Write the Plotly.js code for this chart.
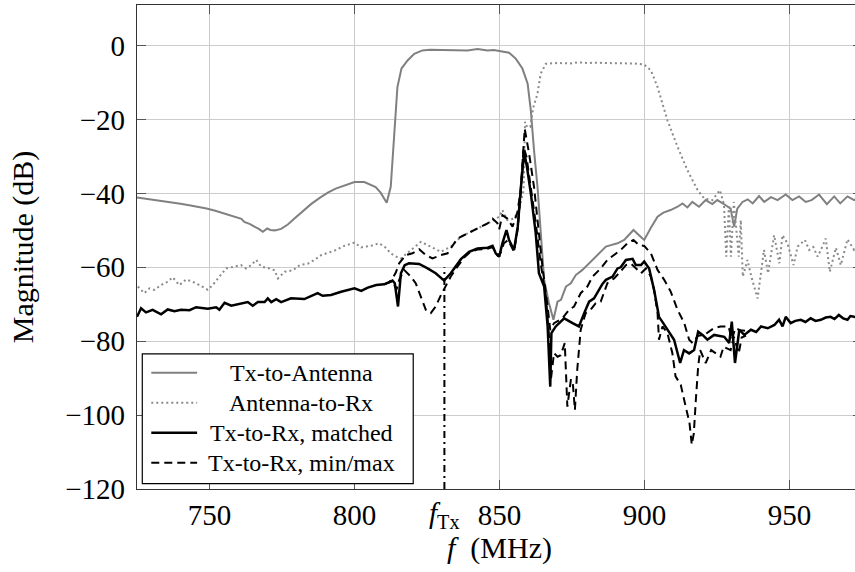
<!DOCTYPE html>
<html>
<head>
<meta charset="utf-8">
<script src="https://cdn.plot.ly/plotly-3.0.1.min.js"></script>
<style>
  html, body { margin: 0; padding: 0; overflow: hidden; background: #fff; }
  #plot { width: 862px; height: 572px; }
</style>
</head>
<body>
<div id="plot"></div>
<script>
// ---------- Data ----------
const txAntF = [725,728,731,734,737,740,743,746,749,752,755,758,761,762,764,765.5,767,768.4,769.9,771,772.5,774.7,777,779.3,782,785,788,790.8,793.5,796.5,798.5,800,803.4,805.6,807.3,809,811.1,812.5,813.7,814.8,816.2,818.3,820.6,823.4,826,828.6,831,834.3,837,839,842.4,845.9,848,850.4,853.3,855.6,857.9,859.7,860.8,861.9,863.1,865.4,867,868.6,870,871.2,872.9,874.6,876.3,878.6,880.3,882.6,884.9,886.7,888.4,890.7,893,894.7,896.2,898.1,899.9,902.2,904.5,906.5,909,911.4,913.1,914.8,916.5,918.8,921.1,923.4,925.1,928,929.7,930.9,932,933.8,935.6,937.3,939.5,941.3,943.6,945.9,948.7,951,953.3,955.6,957.6,960.2,962.9,965.4,967.5,970,972.3,974.5];
const txAntDb = [-41.1,-41.4,-41.7,-42.0,-42.4,-42.8,-43.2,-43.6,-44.1,-44.7,-45.4,-46.2,-46.9,-47.7,-48.3,-49.0,-49.6,-50.4,-49.5,-49.9,-50.0,-49.6,-48.4,-46.8,-45.0,-42.9,-41.2,-39.8,-38.7,-37.8,-37.2,-36.9,-36.9,-37.6,-38.3,-39.8,-42.5,-38.2,-23.8,-11.2,-6.2,-4.0,-2.2,-1.3,-1.1,-1.1,-1.2,-1.1,-1.1,-1.3,-0.9,-1.3,-1.2,-1.5,-1.9,-3.5,-6.2,-10.3,-17.5,-28.3,-38.2,-63.4,-69.5,-74.2,-69.3,-68.8,-65.2,-64.3,-62.1,-60.7,-59.4,-57.6,-55.8,-54.4,-54.0,-53.5,-52.6,-51.3,-49.9,-51.3,-52.6,-49.3,-46.3,-45.2,-44.5,-43.6,-42.7,-43.8,-42.3,-43.6,-41.8,-42.9,-41.8,-43.2,-44.1,-49.0,-44.1,-42.3,-41.6,-42.7,-40.7,-42.3,-41.0,-41.8,-40.3,-41.8,-40.8,-42.3,-41.8,-40.3,-42.9,-40.8,-42.7,-40.8,-41.8,-41.0];

const antRxF = [725.3,726.4,727.5,729.3,731,733.3,735.6,737.3,739.6,741.9,744.2,746.5,749.4,751.1,753.4,755.7,758.6,760.9,762.6,764.4,766.1,767.8,770.7,772.4,773.6,775.9,778.8,781.1,784,786.2,788.5,790.8,793.1,796.5,800,802.3,805.6,808.5,810.5,812.5,814,816,817.8,819.5,822.9,826.3,829.8,833.2,836.7,840.1,843.6,847,849.9,851,852.7,855,856.7,858.3,858.8,859.5,860.6,861.7,863.1,864.2,866,870,874.6,877,880.3,883,886.1,889,891.8,894,896.4,899.9,902.2,904.5,907.9,911.4,914.8,918.3,920.6,923.4,926,927.4,928.2,929.1,929.8,930.8,932.5,933.2,933.9,935.5,937,939,941.2,942.6,944.7,946.5,947.6,949.3,951.4,952.8,955.3,956.8,958.2,959.7,961,962.5,963.9,966,967.7,969,970,972.3,974.5];
const antRxDb = [-65.2,-66.1,-67.0,-65.7,-66.1,-64.8,-63.9,-62.7,-64.8,-63.3,-63.9,-64.8,-66.1,-64.8,-62.5,-60.3,-59.8,-59.4,-60.3,-59.4,-58.0,-59.8,-60.3,-60.8,-63.0,-61.2,-60.8,-59.4,-59.0,-58.0,-56.7,-56.0,-55.5,-54.2,-53.3,-54.6,-54.2,-53.5,-54.5,-56.2,-57.0,-57.6,-56.5,-55.3,-53.1,-54.4,-55.8,-54.4,-51.7,-50.4,-49.0,-47.7,-46.3,-44.5,-47.2,-46.8,-44.5,-39.1,-20.6,-22.0,-22.0,-16.6,-13.0,-7.6,-4.9,-4.7,-4.8,-4.5,-4.7,-4.6,-4.7,-4.8,-4.7,-4.8,-4.8,-5.1,-6.7,-11.2,-20.2,-27.4,-33.7,-39.1,-41.4,-41.8,-39.1,-42.9,-57.1,-43.5,-57.1,-42.3,-57.1,-47.2,-62.5,-58.0,-63.0,-68.4,-55.3,-61.6,-51.3,-58.9,-51.3,-53.5,-59.4,-54.4,-52.6,-55.3,-54.5,-57.1,-55.0,-52.2,-61.2,-54.7,-59.4,-55.0,-52.4,-55.3,-54.0];

const matchedF = [725,726.4,728.1,730.4,733.3,735.6,737.9,740.2,743.1,745.4,749.4,752.3,753.4,755.2,757.5,760.9,763.2,764.9,766.7,769,770.1,771.3,773,774.7,778.1,782.7,785.6,787.3,789,791.9,795.4,798.2,800,802.3,804.6,807.5,810.2,812,813.1,813.9,815,816,817.3,818.8,822.3,825.2,828,830.9,833.2,836.7,839.5,842.4,845.9,847.6,848.7,849.9,851,852.4,853.3,855,856.3,857.3,858.5,859.5,860.8,862.5,863.6,865.4,866.6,867.5,867.9,869.4,872.3,875.2,877.4,879.2,880.9,882.6,884.3,885.5,886.7,889,890.7,891.8,893.6,895.9,897,898.8,899.9,901.6,903.3,905,906.8,908.5,910.2,912.3,913.6,915.4,917.1,918.5,920,921.7,924,927.5,929.2,930.1,931.2,932.7,934.4,936.7,938.5,940.2,942.5,944.8,946.4,947.6,948.7,950.4,952,953.9,955.5,957.3,959,960.8,962.5,964.2,965.5,967,968.5,970,971,972.3,974.5];
const matchedDb = [-73.4,-71.1,-72.2,-71.5,-72.7,-71.4,-71.9,-71.5,-71.6,-70.8,-71.2,-70.8,-71.5,-69.6,-70.4,-69.9,-69.4,-70.4,-69.4,-69.4,-68.4,-69.4,-68.6,-69.4,-68.4,-68.6,-67.5,-67.0,-67.7,-67.5,-66.6,-66.0,-65.7,-66.4,-65.5,-64.8,-64.6,-64.0,-63.6,-64.3,-70.6,-61.6,-59.4,-58.9,-59.1,-60.3,-61.6,-63.6,-61.6,-57.8,-55.8,-54.9,-54.7,-54.2,-56.2,-57.1,-53.5,-49.9,-52.6,-55.3,-49.0,-39.1,-28.8,-33.0,-40.0,-50.8,-61.6,-65.2,-76.0,-92.3,-77.8,-76.0,-73.8,-75.1,-76.0,-72.4,-69.3,-68.4,-66.1,-64.5,-63.4,-62.5,-60.3,-60.0,-58.0,-57.7,-59.4,-59.4,-58.4,-60.3,-66.1,-73.4,-75.5,-77.4,-79.6,-85.9,-82.4,-83.3,-82.4,-77.4,-78.3,-79.6,-78.3,-78.8,-80.5,-74.7,-85.9,-76.9,-78.3,-76.9,-77.5,-76.0,-76.5,-75.6,-74.2,-76.0,-73.4,-75.1,-74.5,-74.2,-74.8,-73.8,-74.5,-74.2,-73.6,-73.4,-74.0,-72.9,-73.8,-74.2,-73.2,-73.4,-73.6];

const maxF = [810.2,812,813.1,814.2,815.4,817.7,820,822.3,824.6,826.9,829.8,832.1,835.5,839,842.4,845.9,847.6,849.3,849.9,851,852.7,854.5,856.2,857.3,858.7,860.2,861.9,863.6,864.8,866.5,867.5,868.8,871.7,874,875.7,878,880.3,882.1,884.9,887.2,889.5,891.8,894.1,896.2,898.1,899.9,902.2,904.5,906.8,909,911.4,913.7,915.4,916.6,918.5,920.6,923.9,926.2,929,930.1,931.3,933,935];
const maxDb = [-64.6,-64.0,-63.0,-61.5,-58.9,-56.7,-56.2,-55.1,-56.7,-57.6,-56.7,-56.2,-52.2,-50.8,-49.5,-48.1,-46.8,-48.1,-49.7,-45.9,-46.8,-49.0,-45.0,-39.1,-22.5,-29.2,-38.2,-50.8,-59.8,-70.0,-77.0,-75.1,-73.8,-71.5,-70.6,-67.0,-65.2,-62.5,-60.3,-58.0,-56.7,-55.3,-53.5,-52.6,-54.0,-54.2,-56.2,-60.7,-63.4,-66.5,-71.5,-75.1,-79.6,-80.5,-78.5,-78.3,-76.5,-76.0,-76.0,-79.6,-76.5,-77.0,-77.2];

const minF = [810.2,812,813.1,814.5,815.4,817.1,819.4,821.1,822.9,824.6,826.3,828,829.8,831.5,833.2,835.5,838,840,842.4,845.9,847.6,849.3,850.5,851.5,853,855,856.3,857.3,858.3,859.3,860.8,862.5,864.2,866,867.1,867.7,868.8,870,871.1,872.5,873.4,874.6,875.2,876,876.8,878,879.7,881.4,883.2,884.9,887.2,889.5,891.2,893.6,895.3,897,898.8,900.5,902.2,903.3,904.5,905,906.2,907.9,909.6,910.7,912.5,914.2,915.5,916.3,917,917.7,918.5,919.2,921.1,923,926.2,927.3,929.7,930.8,932.5,933.5,935];
const minDb = [-64.6,-64.0,-63.8,-66.0,-63.4,-60.7,-62.5,-64.3,-67.9,-71.5,-72.4,-70.6,-67.5,-64.8,-62.5,-59.8,-57.2,-55.8,-55.2,-55.0,-54.5,-56.8,-56.0,-53.5,-52.6,-55.8,-49.5,-40.0,-27.5,-30.0,-38.0,-48.0,-58.9,-68.0,-78.8,-90.5,-83.2,-84.2,-83.8,-80.5,-97.7,-90.5,-90.5,-98.6,-87.8,-76.9,-72.4,-71.5,-69.7,-69.3,-64.3,-63.0,-61.6,-59.4,-59.0,-60.3,-61.6,-60.3,-62.5,-66.1,-72.4,-79.6,-76.0,-77.8,-83.2,-89.5,-91.8,-97.7,-102.0,-108.0,-105.0,-95.9,-86.9,-82.4,-85.9,-82.4,-84.2,-81.5,-82.4,-78.8,-83.3,-79.0,-78.5];

const fTxF = [831, 831];
const fTxDb = [-120, -60];

const xTickVals = [750, 800, 850, 900, 950];
const yTickVals = [-120, -100, -80, -60, -40, -20, 0];
const fTxLabel = '<i>f</i><sub>Tx</sub>';
const legendNames = ['Tx-to-Antenna', 'Antenna-to-Rx', 'Tx-to-Rx, matched', 'Tx-to-Rx, min/max'];

// ---------- Styles ----------
const FONT = '"Liberation Serif", "Times New Roman", serif';
const styles = [
  {color: '#808080', width: 2, dash: 'solid'},
  {color: '#8a8a8a', width: 2, dash: '2px,3px'},
  {color: '#000000', width: 2.5, dash: 'solid'},
  {color: '#000000', width: 2, dash: '8px,5px'}
];
const dashDot = {color: '#000', width: 2, dash: '7px,4px,2px,4px'};

const traces = [
  {x: txAntF, y: txAntDb, name: legendNames[0], mode: 'lines', line: styles[0]},
  {x: antRxF, y: antRxDb, name: legendNames[1], mode: 'lines', line: styles[1]},
  {x: matchedF, y: matchedDb, name: legendNames[2], mode: 'lines', line: styles[2]},
  {x: maxF, y: maxDb, name: legendNames[3] + ' (max)', mode: 'lines', line: styles[3]},
  {x: minF, y: minDb, name: legendNames[3] + ' (min)', mode: 'lines', line: styles[3]},
  {x: fTxF, y: fTxDb, name: 'f_Tx', mode: 'lines', line: dashDot}
];

// ---------- Legend box (drawn in paper coordinates, pgfplots style) ----------
const legBox = {x0: 0.0073, x1: 0.381, y0: 0.011, y1: 0.279};
const legRowY = [0.240, 0.178, 0.116, 0.054];
const legLineX = [0.0197, 0.0829];
const legTextX = 0.2266;

const shapes = [{
  type: 'rect', xref: 'paper', yref: 'paper', layer: 'above',
  x0: legBox.x0, x1: legBox.x1, y0: legBox.y0, y1: legBox.y1,
  fillcolor: '#fff', line: {color: '#000', width: 1.2}
}];
const annotations = [];
legendNames.forEach((nm, i) => {
  shapes.push({
    type: 'line', xref: 'paper', yref: 'paper', layer: 'above',
    x0: legLineX[0], x1: legLineX[1], y0: legRowY[i], y1: legRowY[i],
    line: {color: styles[i].color, width: styles[i].width, dash: styles[i].dash}
  });
  annotations.push({
    xref: 'paper', yref: 'paper', x: legTextX, y: legRowY[i],
    xanchor: 'center', yanchor: 'middle', showarrow: false,
    text: nm, font: {family: FONT, size: 24, color: '#000'}
  });
});
annotations.push({
  x: fTxF[0], xref: 'x', y: 0, yref: 'paper', yanchor: 'top', yshift: -6,
  text: fTxLabel, showarrow: false,
  font: {family: FONT, size: 29, color: '#000'}
});

const axisCommon = {
  ticks: 'inside', ticklen: 9, tickwidth: 1, tickcolor: '#555',
  showgrid: true, gridcolor: '#cccccc', gridwidth: 1,
  showline: true, linecolor: '#333', linewidth: 1.2, mirror: 'ticks',
  zeroline: false,
  tickfont: {family: FONT, size: 29, color: '#000'}
};

const layout = {
  width: 862, height: 572,
  margin: {l: 137, r: 0, t: 5, b: 83},
  paper_bgcolor: '#fff', plot_bgcolor: '#fff',
  font: {family: FONT, color: '#000'},
  showlegend: false,
  xaxis: Object.assign({}, axisCommon, {
    range: [725, 975], tickmode: 'array', tickvals: xTickVals,
    ticklabelstandoff: 0,
    title: {text: '<i>f</i>\u00a0\u00a0(MHz)', font: {family: FONT, size: 30, color: '#000'}, standoff: 7}
  }),
  yaxis: Object.assign({}, axisCommon, {
    range: [-120, 11], tickmode: 'array', tickvals: yTickVals,
    ticklabelstandoff: 5,
    title: {text: 'Magnitude (dB)', font: {family: FONT, size: 30, color: '#000'}, standoff: 22}
  }),
  shapes: shapes,
  annotations: annotations
};

Plotly.newPlot('plot', traces, layout, {staticPlot: true, displayModeBar: false});
</script>
</body>
</html>
